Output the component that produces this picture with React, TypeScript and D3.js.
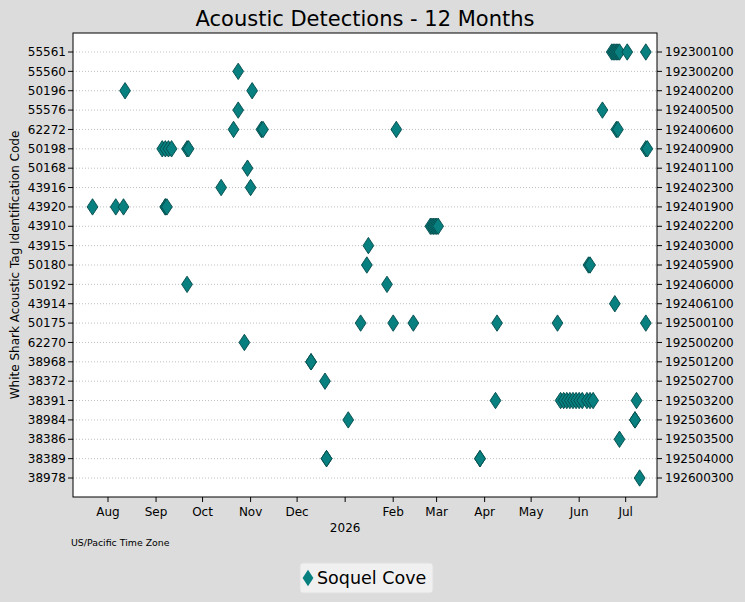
import * as d3 from "d3";

// tag codes, top to bottom (left axis) and matching serial numbers (right axis)
const tagCodes = [
  "55561", "55560", "50196", "55576", "62272", "50198", "50168", "43916",
  "43920", "43910", "43915", "50180", "50192", "43914", "50175", "62270",
  "38968", "38372", "38391", "38984", "38386", "38389", "38978",
];
const serialNumbers = [
  "192300100", "192300200", "192400200", "192400500", "192400600", "192400900",
  "192401100", "192402300", "192401900", "192402200", "192403000", "192405900",
  "192406000", "192406100", "192500100", "192500200", "192501200", "192502700",
  "192503200", "192503600", "192503500", "192504000", "192600300",
];

// detection dates per tag code (local dates, US/Pacific)
const detections: [string, string[]][] = [
  ["55561", ["2026-06-22", "2026-06-23", "2026-06-24", "2026-06-25", "2026-06-26", "2026-06-27", "2026-07-02", "2026-07-14"]],
  ["55560", ["2025-10-24"]],
  ["50196", ["2025-08-12", "2025-11-02"]],
  ["55576", ["2025-10-24", "2026-06-16"]],
  ["62272", ["2025-10-21", "2025-11-08", "2025-11-09", "2026-02-03", "2026-06-25", "2026-06-26"]],
  ["50198", ["2025-09-05", "2025-09-07", "2025-09-09", "2025-09-11", "2025-09-21", "2025-09-22", "2026-07-14", "2026-07-15"]],
  ["50168", ["2025-10-30"]],
  ["43916", ["2025-10-13", "2025-11-01"]],
  ["43920", ["2025-07-22", "2025-08-06", "2025-08-11", "2025-09-07", "2025-09-07", "2025-09-08"]],
  ["43910", ["2026-02-25", "2026-02-26", "2026-02-27", "2026-02-28", "2026-03-01", "2026-03-02"]],
  ["43915", ["2026-01-16"]],
  ["50180", ["2026-01-15", "2026-06-07", "2026-06-08"]],
  ["50192", ["2025-09-21", "2026-01-28"]],
  ["43914", ["2026-06-24"]],
  ["50175", ["2026-01-11", "2026-02-01", "2026-02-14", "2026-04-09", "2026-05-18", "2026-07-14"]],
  ["62270", ["2025-10-28"]],
  ["38968", ["2025-12-10", "2025-12-10"]],
  ["38372", ["2025-12-19"]],
  ["38391", ["2026-04-08", "2026-05-20", "2026-05-22", "2026-05-24", "2026-05-26", "2026-05-28", "2026-05-30", "2026-06-01", "2026-06-03", "2026-06-06", "2026-06-08", "2026-06-10", "2026-07-08"]],
  ["38984", ["2026-01-03", "2026-07-07", "2026-07-07"]],
  ["38386", ["2026-06-27"]],
  ["38389", ["2025-12-20", "2025-12-20", "2026-03-29", "2026-03-29"]],
  ["38978", ["2026-07-10"]],
];

const W = 745;
const H = 602;
const plot = { left: 73, top: 33, right: 657, bottom: 497 };
const font = "DejaVu Sans, Verdana, sans-serif";
const teal = "#088080";
const tealEdge = "#03494a";

const parse = d3.utcParse("%Y-%m-%d");

const x = d3
  .scaleUtc()
  .domain([new Date(Date.UTC(2025, 6, 9, 10)), new Date(Date.UTC(2026, 6, 21, 5))])
  .range([plot.left, plot.right]);

const y = d3.scalePoint<string>().domain(tagCodes).range([52, 478]);

const monthTicks = d3.utcMonth.range(new Date(Date.UTC(2025, 7, 1)), new Date(Date.UTC(2026, 6, 2)));
const fmtMonth = d3.utcFormat("%b");

const diamond = "M0,-8.2L5.4,0L0,8.2L-5.4,0Z";

export default function App() {
  const points = detections.flatMap(([code, dates]) =>
    dates.map((d) => ({ code, date: parse(d) as Date }))
  );

  return (
    <svg
      width={W}
      height={H}
      style={{ position: "absolute", left: 0, top: 0, display: "block" }}
      fontFamily={font}
    >
      <rect width={W} height={H} fill="#dcdcdc" />
      <rect
        x={plot.left}
        y={plot.top}
        width={plot.right - plot.left}
        height={plot.bottom - plot.top}
        fill="#ffffff"
      />

      {/* y grid */}
      {tagCodes.map((c) => (
        <line
          key={"g" + c}
          x1={plot.left}
          x2={plot.right}
          y1={y(c)}
          y2={y(c)}
          stroke="#b0b0b0"
          strokeWidth={0.8}
          strokeDasharray="1,2"
        />
      ))}

      {/* markers */}
      {points.map((p, i) => (
        <path
          key={i}
          d={diamond}
          transform={`translate(${x(p.date)},${y(p.code)})`}
          fill={teal}
          stroke={tealEdge}
          strokeWidth={0.9}
        />
      ))}

      <rect
        x={plot.left}
        y={plot.top}
        width={plot.right - plot.left}
        height={plot.bottom - plot.top}
        fill="none"
        stroke="#000"
        strokeWidth={1}
      />

      {/* left axis */}
      {tagCodes.map((c) => (
        <g key={"l" + c} transform={`translate(${plot.left},${y(c)})`}>
          <line x1={-5} x2={0} stroke="#000" />
          <text x={-7} dy="0.35em" textAnchor="end" fontSize={12} fill="#000">
            {c}
          </text>
        </g>
      ))}

      {/* right axis */}
      {serialNumbers.map((s, i) => (
        <g key={"r" + s} transform={`translate(${plot.right},${y(tagCodes[i])})`}>
          <line x1={0} x2={5} stroke="#000" />
          <text x={8} dy="0.35em" textAnchor="start" fontSize={12} fill="#000">
            {s}
          </text>
        </g>
      ))}

      {/* bottom axis */}
      {monthTicks.map((t) => (
        <g key={t.toISOString()} transform={`translate(${x(t)},${plot.bottom})`}>
          <line y1={0} y2={5} stroke="#000" />
          {t.getUTCMonth() !== 0 && (
            <text y={19} textAnchor="middle" fontSize={12} fill="#000">
              {fmtMonth(t)}
            </text>
          )}
        </g>
      ))}
      <text x={x(new Date(Date.UTC(2026, 0, 1)))} y={532} textAnchor="middle" fontSize={12} fill="#000">
        2026
      </text>
      <text x={71} y={546} fontSize={9.4} fill="#000">
        US/Pacific Time Zone
      </text>

      {/* title and y label */}
      <text x={(plot.left + plot.right) / 2} y={26} textAnchor="middle" fontSize={21} fill="#000">
        Acoustic Detections - 12 Months
      </text>
      <text
        transform={`translate(19,${(plot.top + plot.bottom) / 2}) rotate(-90)`}
        textAnchor="middle"
        fontSize={12}
        fill="#000"
      >
        White Shark Acoustic Tag Identification Code
      </text>

      {/* legend */}
      <g>
        <rect x={300} y={563} width={133} height={30} rx={3} fill="#f0f0f0" stroke="#e0e0e0" />
        <path d={diamond} transform="translate(308,578)" fill={teal} stroke="none" />
        <text x={317} y={584} fontSize={17.5} fill="#000">
          Soquel Cove
        </text>
      </g>
    </svg>
  );
}
